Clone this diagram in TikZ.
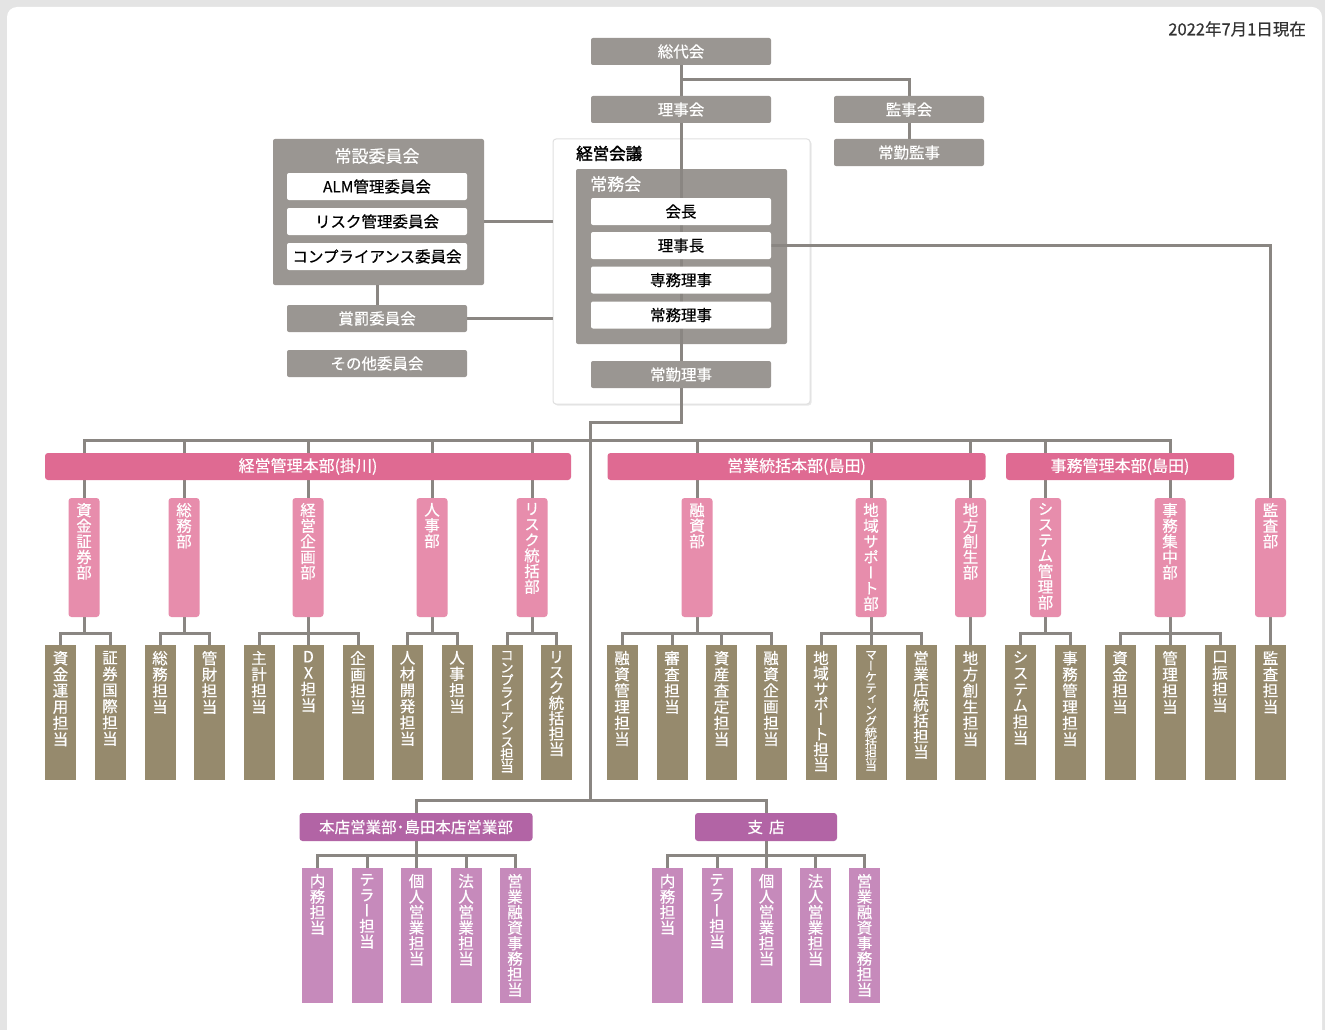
\documentclass[tikz,border=0pt]{standalone}
\usepackage{fontspec}
\setmainfont{Noto Sans CJK JP}[FakeBold=0.4]
\newfontfamily\vjp{Noto Sans CJK JP}[RawFeature=+vert, FakeBold=0.4]
\newfontfamily\bjp{Noto Sans CJK JP}[FakeBold=2]
\usetikzlibrary{shadows}
\definecolor{bggray}{HTML}{E4E4E4}
\definecolor{boxgray}{HTML}{9A9692}
\definecolor{linegray}{HTML}{8A8682}
\definecolor{hqpink}{HTML}{DF6A92}
\definecolor{deptpink}{HTML}{E78DAC}
\definecolor{olive}{HTML}{968A6D}
\definecolor{brpurple}{HTML}{B264A5}
\definecolor{ltpurple}{HTML}{C68ABB}
\definecolor{datecol}{HTML}{333333}
\def\vstack#1{\expandafter\vstackaux#1\relax}
\def\vstackaux#1#2{#1\ifx\relax#2\expandafter\vgobble\else\expandafter\vstacknext\fi{#2}}
\def\vstacknext#1{\\\vstackaux#1}
\def\vgobble#1{}
\pgfdeclarelayer{panel}
\pgfdeclarelayer{lines}
\pgfsetlayers{panel,lines,main}
\tikzset{
  conn/.style={draw=linegray, line width=3pt},
  gbox/.style={fill=boxgray, text=white, rounded corners=2pt, minimum width=180pt, minimum height=27pt, inner sep=0pt, font=\fontsize{15.5}{17}\selectfont},
  wbox/.style={gbox, fill=white, text=black},
  ttl/.style={inner sep=0pt, text=white, font=\fontsize{17}{19}\selectfont},
  jpanel/.style={fill=boxgray, rounded corners=2pt, minimum width=211pt, inner sep=0pt},
  keipanel/.style={fill=white, draw=black!12, line width=1pt, rounded corners=3pt, minimum width=257pt, minimum height=265pt, inner sep=0pt, drop shadow={shadow xshift=1.5pt, shadow yshift=-1.5pt, opacity=0.18}},
  hq/.style={fill=hqpink, text=white, rounded corners=3pt, minimum height=27pt, inner sep=0pt, font=\fontsize{16}{18}\selectfont},
  dept/.style={fill=deptpink, rounded corners=3pt, minimum width=31pt, minimum height=119pt, inner sep=0pt},
  staff/.style={fill=olive, minimum width=31pt, minimum height=135pt, inner sep=0pt},
  brhead/.style={fill=brpurple, text=white, rounded corners=3pt, minimum height=28pt, inner sep=0pt, font=\fontsize{15.5}{17}\selectfont},
  brstaff/.style={fill=ltpurple, minimum width=31pt, minimum height=135pt, inner sep=0pt},
  vlabel/.style={anchor=north, inner sep=0pt, text=white, align=center},
}
\begin{document}
\begin{tikzpicture}[x=1pt,y=-1pt]
\useasboundingbox (0,0) rectangle (1325,1030);
\begin{pgfonlayer}{panel}
\fill[bggray] (0,0) rectangle (1325,1030);
\fill[white, rounded corners=10pt] (7,7) rectangle (1322,1070);
\node[keipanel] (keiei) at (681.5,271.5) {};
\node[jpanel, minimum height=175pt] (jomu) at (681.5,256.5) {};
\node[jpanel, minimum height=146pt] (joset) at (378.5,212) {};
\end{pgfonlayer}

% top nodes
\node[gbox] (sodai) at (681,51.5) {総代会};
\node[gbox] (rijikai) at (681,109.5) {理事会};
\node[gbox, minimum width=150pt] (kanjikai) at (909,109.5) {監事会};
\node[gbox, minimum width=150pt] (jokinkanji) at (909,152.5) {常勤監事};
\node[wbox] (kaicho) at (681,211.5) {会長};
\node[wbox] (rijicho) at (681,245.5) {理事長};
\node[wbox] (senmu) at (681,280) {専務理事};
\node[wbox] (jomuriji) at (681,315) {常務理事};
\node[gbox] (jokinriji) at (681,374.5) {常勤理事};
\node[wbox] (alm) at (377,186.5) {ALM管理委員会};
\node[wbox] (riskc) at (377,221.5) {リスク管理委員会};
\node[wbox] (compc) at (377,256.5) {コンプライアンス委員会};
\node[gbox] (shobatsu) at (377,318.5) {賞罰委員会};
\node[gbox] (sonota) at (377,363.5) {その他委員会};
\node[ttl] (josetlbl) at (377,156) {常設委員会};
\node[ttl, anchor=west] (jomulbl) at (590,184) {常務会};
\node[ttl, anchor=west, text=black, font=\bjp\fontsize{16.5}{18}\selectfont] (keieilbl) at (576,153.5) {経営会議};
\node[anchor=east, inner sep=0pt, text=datecol, font=\fontsize{16.5}{18}\selectfont] (date) at (1306,29) {2022年7月1日現在};

% headquarters
\node[hq, minimum width=526pt] (hq1) at (308,466.5) {経営管理本部(掛川)};
\node[hq, minimum width=378pt] (hq2) at (796.5,466.5) {営業統括本部(島田)};
\node[hq, minimum width=228pt] (hq3) at (1120,466.5) {事務管理本部(島田)};

% departments
\foreach \n/\x/\t in {d1/84/資金証券部, d2/184/総務部, d3/308/経営企画部, d4/432/人事部, d5/532/リスク統括部, d6/697/融資部, d7/871/地域サポート部, d8/970.5/地方創生部, d9/1045.5/システム管理部, d10/1170/事務集中部, d11/1270.5/監査部}{
  \node[dept] (\n) at (\x,557.5) {};
  \node[vlabel, font=\vjp\fontsize{15.5}{15.6}\selectfont] (\n-t) at ([yshift=-5pt]\n.north) {\vstack{\t}};
}

% staff
\foreach \n/\x/\t/\fs/\bs in {s1/60.5/資金運用担当/15.5/16.2, s2/110/証券国際担当/15.5/16.2, s3/160/総務担当/15.5/16.2, s4/209.5/管財担当/15.5/16.2, s5/259/主計担当/15.5/16.2, s6/308.5/DX担当/15.5/16.2, s7/358/企画担当/15.5/16.2, s8/407.5/人材開発担当/15.5/16.2, s9/457/人事担当/15.5/16.2, s10/507/コンプライアンス担当/13.5/12.4, s11/556.5/リスク統括担当/15.5/15.4, s12/622/融資管理担当/15.5/16.2, s13/672/審査担当/15.5/16.2, s14/721.5/資産査定担当/15.5/16.2, s15/771/融資企画担当/15.5/16.2, s16/821/地域サポート担当/15.5/15.2, s17/871/マーケティング統括担当/12/11.1, s18/921/営業店統括担当/15.5/15.6, s19/970.5/地方創生担当/15.5/16.2, s20/1020.5/システム担当/15.5/16.2, s21/1070/事務管理担当/15.5/16.2, s22/1120/資金担当/15.5/16.2, s23/1170/管理担当/15.5/16.2, s24/1220/口振担当/15.5/16.2, s25/1270.5/監査担当/15.5/16.2}{
  \node[staff] (\n) at (\x,712.5) {};
  \node[vlabel, font=\vjp\fontsize{\fs}{\bs}\selectfont] (\n-t) at ([yshift=-6pt]\n.north) {\vstack{\t}};
}

% branches
\node[brhead, minimum width=233pt] (honten) at (416,827) {本店営業部･島田本店営業部};
\node[brhead, minimum width=142pt] (shiten) at (766,827) {支\hspace{6pt}店};
\foreach \n/\x/\t in {b1/317.5/内務担当, b2/367/テラー担当, b3/416.5/個人営業担当, b4/466/法人営業担当, b5/515/営業融資事務担当, b6/667.5/内務担当, b7/717/テラー担当, b8/766.5/個人営業担当, b9/815.5/法人営業担当, b10/864.5/営業融資事務担当}{
  \node[brstaff] (\n) at (\x,935.5) {};
  \node[vlabel, font=\vjp\fontsize{15.5}{15.5}\selectfont] (\n-t) at ([yshift=-6pt]\n.north) {\vstack{\t}};
}

\coordinate (k1) at (681,80);
\coordinate (j1) at (681,422);
\coordinate (j2) at (590,422);
\coordinate (j3) at (590,800);

\begin{pgfonlayer}{lines}
\draw[conn] (sodai.south) -- (jokinriji.north);
\draw[conn] (k1) -| (kanjikai.north);
\draw[conn] (kanjikai.south) -- (jokinkanji.north);
\draw[conn] (jokinriji.south) -- (j1) -- (j2) -- (j3);
\draw[conn] (rijicho.east) -| (d11.north);
\draw[conn] (joset.east |- riskc) -- (keiei.west |- riskc);
\draw[conn] (shobatsu.north |- joset.south) -- (shobatsu.north);
\draw[conn] (shobatsu.east) -- (keiei.west |- shobatsu);
% top bar
\draw[conn] (d1.north) -- (d1.north |- 0,440) -- (d10.north |- 0,440) -- (d10.north);
\foreach \d in {d2,d3,d4,d5,d6,d7,d8,d9}
  \draw[conn] (\d.north |- 0,440) -- (\d.north);
% dept to staff
\foreach \p/\a/\b/\m in {d1/s1/s2/{}, d2/s3/s4/{}, d3/s5/s7/{s6}, d4/s8/s9/{}, d5/s10/s11/{}, d6/s12/s15/{s13,s14}, d7/s16/s18/{s17}, d9/s20/s21/{}, d10/s22/s24/{s23}}{
  \draw[conn] (\p.south) -- (\p.south |- 0,633);
  \draw[conn] (\a.north) -- (\a.north |- 0,633) -- (\b.north |- 0,633) -- (\b.north);
  \foreach \c in \m \draw[conn] (\c.north |- 0,633) -- (\c.north);
}
\draw[conn] (d8.south) -- (s19.north);
\draw[conn] (d11.south) -- (s25.north);
% branches
\draw[conn] (honten.north) -- (honten.north |- j3) -- (shiten.north |- j3) -- (shiten.north);
\draw[conn] (honten.south) -- (honten.south |- 0,855);
\draw[conn] (b1.north) -- (b1.north |- 0,855) -- (b5.north |- 0,855) -- (b5.north);
\foreach \c in {b2,b3,b4} \draw[conn] (\c.north |- 0,855) -- (\c.north);
\draw[conn] (shiten.south) -- (shiten.south |- 0,855);
\draw[conn] (b6.north) -- (b6.north |- 0,855) -- (b10.north |- 0,855) -- (b10.north);
\foreach \c in {b7,b8,b9} \draw[conn] (\c.north |- 0,855) -- (\c.north);
\end{pgfonlayer}
\end{tikzpicture}
\end{document}
